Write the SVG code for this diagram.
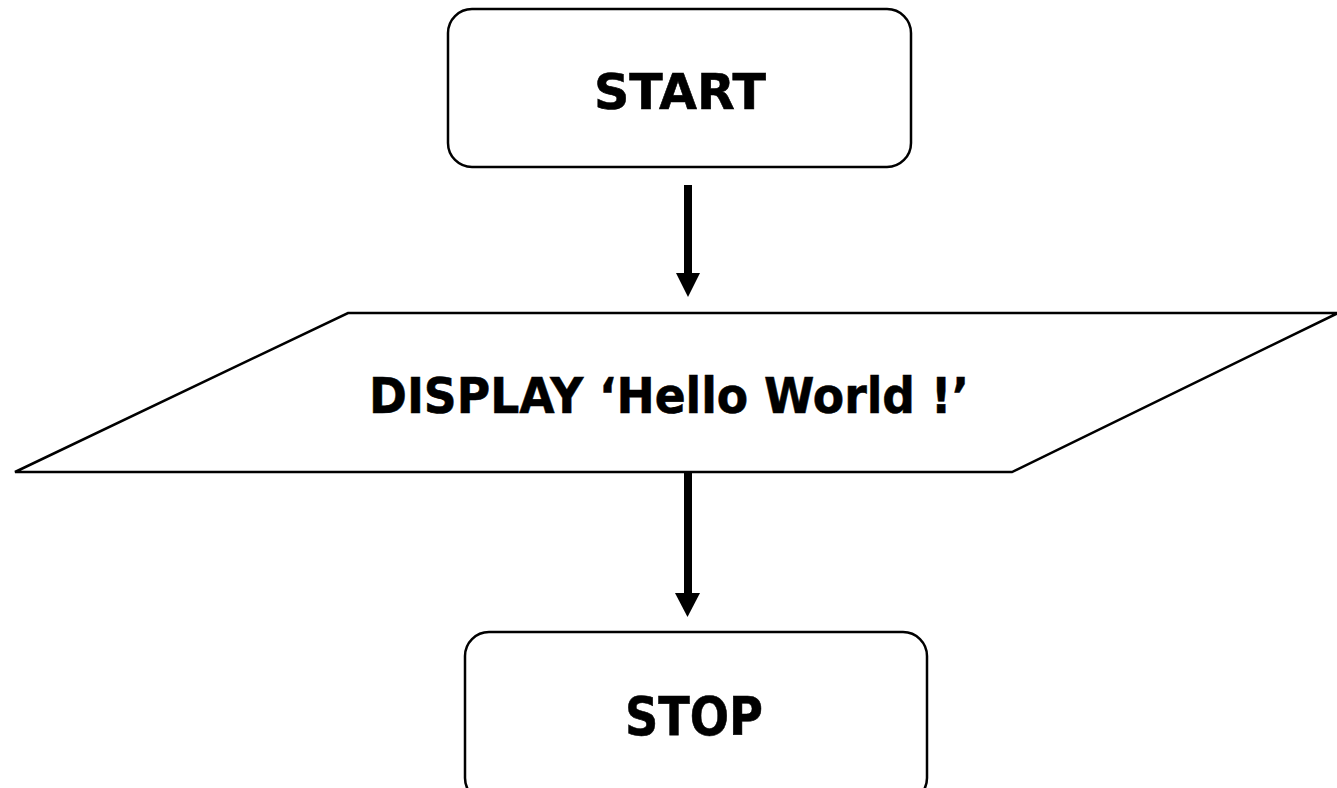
<svg xmlns="http://www.w3.org/2000/svg" width="1337" height="788" viewBox="0 0 1337 788">
<style>
.shape{fill:#fff;stroke:#000;stroke-width:2.5}
.lbl{font-family:"DejaVu Sans","Liberation Sans",sans-serif;font-weight:bold;fill:#000;stroke:#000;stroke-width:0.6;text-anchor:middle}
.conn{stroke:#000;stroke-width:8;fill:none}
.head{fill:#000}
</style>
<rect width="1337" height="788" fill="#fff"/>
<g id="start">
<rect class="shape" x="448" y="9" width="463" height="158" rx="24"/>
<text class="lbl" x="680" y="109" font-size="50" textLength="172" lengthAdjust="spacingAndGlyphs">START</text>
</g>
<g id="display">
<polygon class="shape" points="348,313 1338,313 1012,472 15,472"/>
<text class="lbl" x="669" y="413" font-size="50" textLength="600" lengthAdjust="spacingAndGlyphs">DISPLAY ‘Hello World !’</text>
</g>
<g id="stop">
<rect class="shape" x="465" y="632" width="462" height="170" rx="24"/>
<text class="lbl" x="694" y="735" font-size="54" textLength="138" lengthAdjust="spacingAndGlyphs">STOP</text>
</g>
<g id="connectors">
<line class="conn" x1="688" y1="185" x2="688" y2="276"/>
<polygon class="head" points="676,273 700,273 688,297"/>
<line class="conn" x1="688" y1="472" x2="688" y2="596"/>
<polygon class="head" points="675,593 700,593 687.5,617"/>
</g>
</svg>
